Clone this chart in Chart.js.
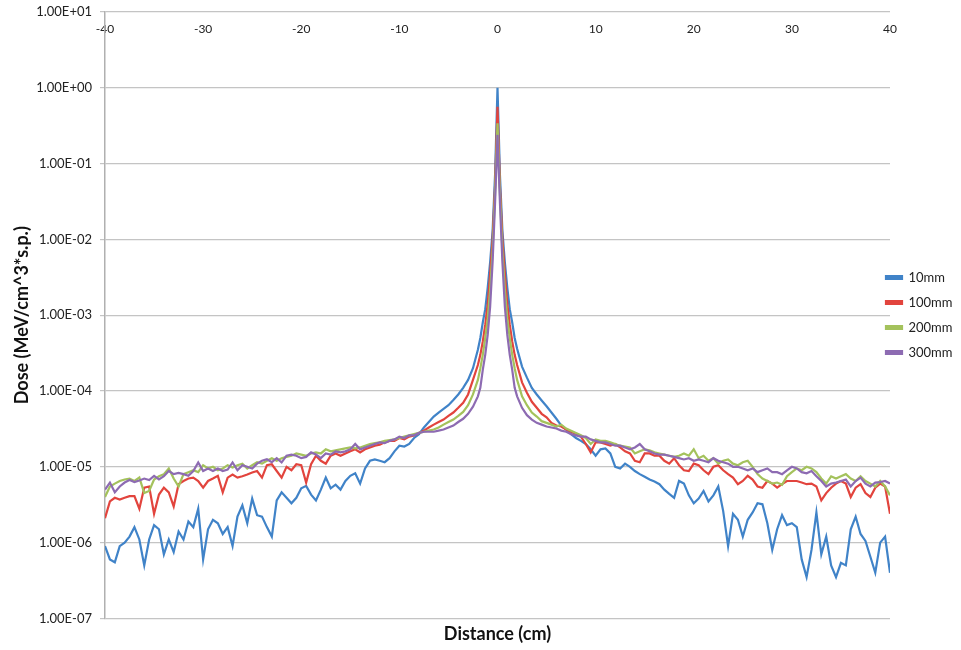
<!DOCTYPE html>
<html>
<head>
<meta charset="utf-8">
<script src="https://cdn.jsdelivr.net/npm/chart.js@4.4.1/dist/chart.umd.min.js"></script>
<style>
  html, body { margin: 0; background: #fff; }
  #wrap { width: 961px; height: 650px; }
</style>
</head>
<body>
<div id="wrap"><canvas id="dose"></canvas></div>
<script>
// sample positions (cm): 0.5 cm bins in the tails, 0.25 cm round the peak
const distance = [];
for (let d = -40; d <= -2.5; d += 0.5) distance.push(d);
for (let d = -2; d <= 2; d += 0.25) distance.push(d);
for (let d = 2.5; d <= 40; d += 0.5) distance.push(d);

const seriesNames = ["10mm", "100mm", "200mm", "300mm"];

const dose10 = [
  9e-7, 6e-7, 5.5e-7, 9e-7, 1e-6, 1.2e-6, 1.6e-6, 1.1e-6, 5e-7, 1.1e-6,
  1.7e-6, 1.5e-6, 7e-7, 1.1e-6, 7.5e-7, 1.4e-6, 1.1e-6, 1.9e-6, 1.6e-6, 2.8e-6,
  6e-7, 1.5e-6, 2e-6, 1.8e-6, 1.3e-6, 1.6e-6, 9e-7, 2.2e-6, 3.1e-6, 1.8e-6,
  3.8e-6, 2.3e-6, 2.2e-6, 1.6e-6, 1.2e-6, 3.6e-6, 4.6e-6, 3.9e-6, 3.3e-6, 3.9e-6,
  5.2e-6, 5.6e-6, 4.3e-6, 3.6e-6, 5e-6, 7.2e-6, 5.2e-6, 5.8e-6, 5e-6, 6.5e-6,
  7.6e-6, 8.2e-6, 6e-6, 9.5e-6, 1.2e-5, 1.25e-5, 1.2e-5, 1.15e-5, 1.3e-5, 1.6e-5,
  1.9e-5, 1.85e-5, 2e-5, 2.4e-5, 2.7e-5, 3.3e-5, 3.9e-5, 4.6e-5, 5.2e-5, 5.8e-5,
  6.5e-5, 7.6e-5, 9e-5, 1.1e-4, 1.4e-4, 2e-4,
  3.5e-4, 5e-4, 8e-4, 1.2e-3, 2.3e-3, 5e-3, 1.3e-2, 7e-2, 1.0,
  7e-2, 1.3e-2, 5e-3, 2.3e-3, 1.2e-3, 8e-4, 5e-4, 3.6e-4,
  2.1e-4, 1.5e-4, 1.1e-4, 9e-5, 7.5e-5, 6.3e-5, 5.2e-5, 4.3e-5, 3.5e-5, 3.1e-5,
  2.7e-5, 2.4e-5, 2.2e-5, 2e-5, 1.7e-5, 1.4e-5, 1.7e-5, 1.75e-5, 1.5e-5, 1e-5,
  9.5e-6, 1.1e-5, 1e-5, 8.8e-6, 8e-6, 7.4e-6, 6.8e-6, 6.4e-6, 5.9e-6, 5e-6,
  4.4e-6, 3.9e-6, 6.5e-6, 6e-6, 4.2e-6, 3.3e-6, 3.8e-6, 4.8e-6, 3.5e-6, 4.2e-6,
  5.5e-6, 2.6e-6, 9e-7, 2.4e-6, 2e-6, 1.2e-6, 2e-6, 2.5e-6, 3.3e-6, 3.2e-6,
  1.8e-6, 8e-7, 1.5e-6, 2.3e-6, 1.7e-6, 1.8e-6, 1.6e-6, 6e-7, 3.5e-7, 8e-7,
  2.5e-6, 7e-7, 1.2e-6, 5e-7, 3.5e-7, 5.4e-7, 5e-7, 1.5e-6, 2.2e-6, 1.3e-6,
  1.05e-6, 6.5e-7, 4e-7, 1e-6, 1.2e-6, 4e-7
];

const dose100 = [
  2.1e-6, 3.5e-6, 3.9e-6, 3.7e-6, 3.9e-6, 4.1e-6, 4.1e-6, 2.8e-6, 5.3e-6, 5.5e-6,
  2.4e-6, 4.3e-6, 5.3e-6, 4.6e-6, 3e-6, 5.9e-6, 6.5e-6, 7e-6, 7.2e-6, 6.5e-6,
  5.3e-6, 6.5e-6, 7e-6, 7.6e-6, 4.6e-6, 7.2e-6, 7.9e-6, 7.2e-6, 7.5e-6, 7.9e-6,
  8.4e-6, 8.8e-6, 7.2e-6, 1.05e-5, 1.08e-5, 8.8e-6, 7.2e-6, 1e-5, 9e-6, 1.08e-5,
  1.05e-5, 6.2e-6, 1.08e-5, 1.4e-5, 1.2e-5, 1.1e-5, 1.4e-5, 1.5e-5, 1.4e-5, 1.5e-5,
  1.6e-5, 1.7e-5, 1.55e-5, 1.7e-5, 1.8e-5, 1.9e-5, 1.95e-5, 2.1e-5, 2.2e-5, 2.2e-5,
  2.4e-5, 2.3e-5, 2.5e-5, 2.6e-5, 2.8e-5, 3e-5, 3.3e-5, 3.6e-5, 3.9e-5, 4.2e-5,
  4.7e-5, 5.2e-5, 6e-5, 7e-5, 9e-5, 1.4e-4,
  2.2e-4, 3e-4, 4.5e-4, 7.5e-4, 1.4e-3, 3.5e-3, 1e-2, 5e-2, 0.56,
  5e-2, 1e-2, 3.5e-3, 1.4e-3, 7.5e-4, 4.5e-4, 3e-4, 2.2e-4,
  1.3e-4, 9.5e-5, 7.2e-5, 6e-5, 5e-5, 4.5e-5, 3.8e-5, 3.5e-5, 3.4e-5, 3.1e-5,
  2.9e-5, 2.7e-5, 2.5e-5, 2e-5, 1.55e-5, 2.1e-5, 2.1e-5, 2e-5, 1.9e-5, 2e-5,
  1.8e-5, 1.6e-5, 1.5e-5, 1.2e-5, 1.15e-5, 1.5e-5, 1.5e-5, 1.4e-5, 1.4e-5, 1.2e-5,
  1.1e-5, 1.3e-5, 1.05e-5, 9e-6, 8.8e-6, 1.1e-5, 1.05e-5, 9e-6, 8e-6, 1e-5,
  1.05e-5, 9e-6, 8e-6, 7.2e-6, 5.9e-6, 6.5e-6, 7.6e-6, 6.8e-6, 5.5e-6, 5.3e-6,
  6.5e-6, 6e-6, 5.3e-6, 5.9e-6, 6.5e-6, 6.5e-6, 6.5e-6, 6.2e-6, 5.9e-6, 6e-6,
  5.5e-6, 3.6e-6, 4.5e-6, 5.3e-6, 6e-6, 6.5e-6, 6e-6, 4e-6, 5.3e-6, 5.9e-6,
  4.5e-6, 4e-6, 5.3e-6, 6e-6, 5.5e-6, 2.4e-6
];

const dose200 = [
  4e-6, 5.5e-6, 6e-6, 6.5e-6, 6.8e-6, 7e-6, 6.5e-6, 7.2e-6, 4.5e-6, 4.8e-6,
  6.8e-6, 7.5e-6, 8e-6, 9.5e-6, 7e-6, 5.5e-6, 8e-6, 8.5e-6, 9e-6, 8.5e-6,
  1.05e-5, 9.5e-6, 1e-5, 9e-6, 9.5e-6, 1.05e-5, 9.8e-6, 1.05e-5, 1.1e-5, 9.5e-6,
  1.05e-5, 1.15e-5, 1.1e-5, 1.2e-5, 1.3e-5, 1.2e-5, 1.3e-5, 1.35e-5, 1.4e-5, 1.5e-5,
  1.45e-5, 1.4e-5, 1.5e-5, 1.55e-5, 1.5e-5, 1.7e-5, 1.6e-5, 1.65e-5, 1.7e-5, 1.75e-5,
  1.8e-5, 1.75e-5, 1.8e-5, 1.9e-5, 2e-5, 2.05e-5, 2.1e-5, 2.2e-5, 2.25e-5, 2.3e-5,
  2.4e-5, 2.5e-5, 2.6e-5, 2.7e-5, 2.8e-5, 2.9e-5, 3e-5, 3.1e-5, 3.3e-5, 3.6e-5,
  3.9e-5, 4.2e-5, 4.7e-5, 5.3e-5, 6.5e-5, 9e-5,
  1.4e-4, 2e-4, 3e-4, 5e-4, 9e-4, 2.2e-3, 7e-3, 4e-2, 0.34,
  4e-2, 7e-3, 2.2e-3, 9e-4, 5e-4, 3e-4, 2e-4, 1.4e-4,
  8.5e-5, 6.5e-5, 5.2e-5, 4.6e-5, 4e-5, 3.8e-5, 3.6e-5, 3.4e-5, 3.6e-5, 3.2e-5,
  3e-5, 2.8e-5, 2.6e-5, 2.4e-5, 2e-5, 2.3e-5, 2.2e-5, 2.2e-5, 2.1e-5, 2e-5,
  1.9e-5, 1.85e-5, 1.8e-5, 1.5e-5, 1.6e-5, 1.7e-5, 1.65e-5, 1.55e-5, 1.5e-5, 1.45e-5,
  1.4e-5, 1.35e-5, 1.4e-5, 1.5e-5, 1.4e-5, 1.7e-5, 1.3e-5, 1.4e-5, 1.2e-5, 1.3e-5,
  1.1e-5, 1.2e-5, 1.25e-5, 1.1e-5, 1.05e-5, 1.15e-5, 1.2e-5, 1e-5, 8e-6, 7e-6,
  6.5e-6, 6e-6, 6.2e-6, 5.8e-6, 7.5e-6, 8.5e-6, 9.5e-6, 9e-6, 1e-5, 9.5e-6,
  8.5e-6, 7e-6, 6e-6, 7.5e-6, 7e-6, 7.5e-6, 8e-6, 7e-6, 6.5e-6, 7.5e-6,
  6.5e-6, 6e-6, 5.5e-6, 6.5e-6, 5.5e-6, 4.2e-6
];

const dose300 = [
  5e-6, 6.2e-6, 4.6e-6, 5.5e-6, 6.2e-6, 6.7e-6, 6.3e-6, 6.6e-6, 7e-6, 6.7e-6,
  7.6e-6, 6.8e-6, 7.5e-6, 8.8e-6, 8e-6, 8.3e-6, 8e-6, 7.6e-6, 8.8e-6, 1.14e-5,
  8.8e-6, 9.5e-6, 8.8e-6, 9.5e-6, 8.8e-6, 9.2e-6, 1.14e-5, 9e-6, 1.05e-5, 1e-5,
  9.5e-6, 1.1e-5, 1.2e-5, 1.26e-5, 1.15e-5, 1.3e-5, 1.14e-5, 1.4e-5, 1.45e-5, 1.4e-5,
  1.3e-5, 1.35e-5, 1.55e-5, 1.45e-5, 1.3e-5, 1.5e-5, 1.45e-5, 1.6e-5, 1.55e-5, 1.6e-5,
  1.7e-5, 2e-5, 1.7e-5, 1.8e-5, 1.9e-5, 2e-5, 2.1e-5, 2.05e-5, 2.2e-5, 2.3e-5,
  2.5e-5, 2.4e-5, 2.6e-5, 2.6e-5, 2.8e-5, 2.9e-5, 2.9e-5, 2.9e-5, 3e-5, 3.1e-5,
  3.3e-5, 3.5e-5, 3.9e-5, 4.3e-5, 5e-5, 6.2e-5,
  8.5e-5, 1.1e-4, 1.9e-4, 3e-4, 5.5e-4, 1.3e-3, 5e-3, 3e-2, 0.24,
  3e-2, 5e-3, 1.3e-3, 5.5e-4, 3e-4, 1.9e-4, 1.1e-4, 8.5e-5,
  6e-5, 4.8e-5, 4.2e-5, 3.8e-5, 3.6e-5, 3.4e-5, 3.3e-5, 3.2e-5, 3e-5, 2.9e-5,
  2.7e-5, 2.6e-5, 2.5e-5, 2.5e-5, 2.3e-5, 2.2e-5, 2.1e-5, 2.1e-5, 2e-5, 1.9e-5,
  1.9e-5, 1.8e-5, 1.7e-5, 1.8e-5, 2e-5, 1.7e-5, 1.6e-5, 1.5e-5, 1.45e-5, 1.45e-5,
  1.4e-5, 1.35e-5, 1.3e-5, 1.25e-5, 1.3e-5, 1.2e-5, 1.25e-5, 1.2e-5, 1.15e-5, 1.3e-5,
  1.2e-5, 1.15e-5, 1.1e-5, 1e-5, 1e-5, 9.5e-6, 9e-6, 9.5e-6, 8.5e-6, 9e-6,
  9.5e-6, 8.5e-6, 8.5e-6, 8e-6, 9e-6, 1e-5, 9.5e-6, 8.5e-6, 8.2e-6, 8.8e-6,
  7.5e-6, 6.5e-6, 5.5e-6, 6e-6, 6.2e-6, 6.5e-6, 6.8e-6, 5.5e-6, 6.5e-6, 7.2e-6,
  6e-6, 5.5e-6, 6.2e-6, 6.3e-6, 6.5e-6, 6e-6
];

const xTicks = [-40, -30, -20, -10, 0, 10, 20, 30, 40];
const yTicks = [1e-7, 1e-6, 1e-5, 1e-4, 1e-3, 1e-2, 1e-1, 1e0, 1e1];
const yTickLabels = ["1.00E-07", "1.00E-06", "1.00E-05", "1.00E-04", "1.00E-03",
                     "1.00E-02", "1.00E-01", "1.00E+00", "1.00E+01"];

const colors = ["#4083C8", "#E2443D", "#A4C25C", "#8D6BB2"];
const allSeries = [dose10, dose100, dose200, dose300];

function points(values) {
  return values.map((v, i) => ({ x: distance[i], y: v }));
}

const font = "Lato, 'Liberation Sans', sans-serif";

// the legend in the original starts right at the plot's edge, a bit above centre
const nudgeLegend = {
  id: "nudgeLegend",
  afterLayout(chart) {
    const lg = chart.legend;
    if (!lg) return;
    lg.left -= 16;
    lg.top -= 16; lg.bottom -= 16;
  }
};

new Chart(document.getElementById("dose"), {
  type: "line",
  data: {
    datasets: allSeries.map((vals, i) => ({
      label: seriesNames[i],
      data: points(vals),
      borderColor: colors[i],
      backgroundColor: colors[i],
      borderWidth: 2.2,
      pointRadius: 0,
      tension: 0,
      fill: false,
      order: allSeries.length - i   // 300mm ends up on top, like the original
    }))
  },
  plugins: [nudgeLegend],
  options: {
    responsive: true,
    maintainAspectRatio: false,
    animation: false,
    layout: { padding: { top: 12, left: 0, right: 0, bottom: 0 } },
    plugins: {
      tooltip: { enabled: false },
      legend: {
        position: "right",
        maxWidth: 71,
        labels: {
          boxWidth: 16,
          boxHeight: 3,
          padding: 12,
          color: "#222",
          font: { family: font, size: 13 },
          sort: (a, b) => a.datasetIndex - b.datasetIndex
        }
      }
    },
    scales: {
      x: {
        type: "linear",
        min: -40, max: 40,
        position: { y: 10 },
        afterBuildTicks: s => { s.ticks = xTicks.map(v => ({ value: v })); },
        grid: { display: false, drawTicks: false },
        border: { display: false },
        ticks: { padding: 10, color: "#222", font: { family: font, size: 12 } }
      },
      x2: {
        type: "linear",
        min: -40, max: 40,
        position: "bottom",
        grid: { display: false, drawTicks: false },
        border: { display: false },
        ticks: { display: false },
        title: {
          display: true,
          text: "Distance (cm)",
          color: "#111",
          font: { family: font, size: 18, weight: "bold" },
          padding: { top: 5, bottom: 5 }
        }
      },
      y: {
        type: "logarithmic",
        min: 1e-7, max: 10,
        afterBuildTicks: s => { s.ticks = yTicks.map(v => ({ value: v })); },
        afterFit: s => { s.width = 105; s.paddingTop = 0; s.paddingBottom = 0; },
        grid: { color: "#c4c4c4", lineWidth: 1.2, tickLength: 5 },
        border: { color: "#b0b0b0", width: 1.5 },
        ticks: {
          padding: 8,
          color: "#222",
          font: { family: font, size: 13 },
          callback: v => yTickLabels[yTicks.indexOf(v)]
        },
        title: {
          display: true,
          text: "Dose (MeV/cm^3*s.p.)",
          color: "#111",
          font: { family: font, size: 18, weight: "bold" },
          padding: { top: 11, bottom: 0 }
        }
      }
    }
  }
});
</script>
</body>
</html>
